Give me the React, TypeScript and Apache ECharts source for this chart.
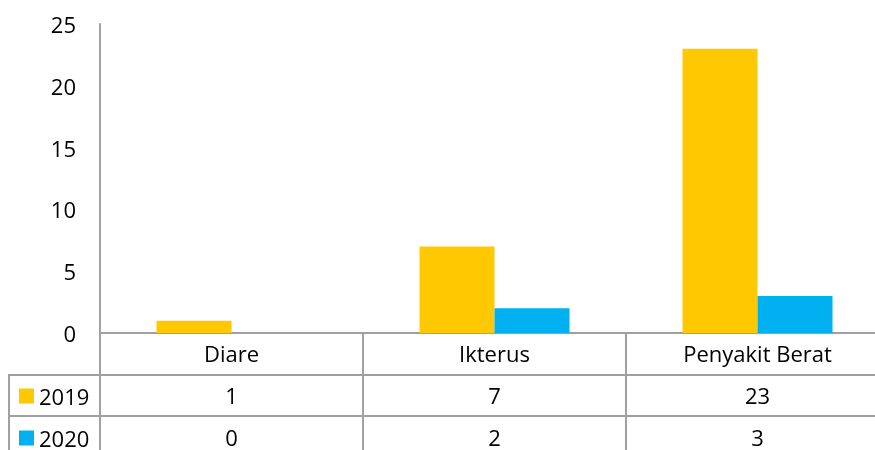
import React, { useEffect, useRef } from "react";
import * as echarts from "echarts";

const categories = ["Diare", "Ikterus", "Penyakit Berat"];
const seriesNames = ["2019", "2020"];
const values2019 = [1, 7, 23];
const values2020 = [0, 2, 3];
const yTicks = { min: 0, max: 25, interval: 5 };

const FONT = "Open Sans";
const GRAY = "#a0a0a0";

export default function App() {
  const ref = useRef<HTMLDivElement>(null);
  useEffect(() => {
    if (!ref.current) return;
    const chart = echarts.init(ref.current, null, { renderer: "svg" });
    const labelStyle = { fontFamily: FONT, fontSize: 22, color: "#000", lineHeight: 22 };
    const legendBase = {
      orient: "horizontal",
      left: 19,
      padding: 0,
      itemWidth: 15,
      itemHeight: 15,
      icon: "rect",
      selectedMode: false,
      textStyle: { fontFamily: FONT, fontSize: 22, color: "#000", lineHeight: 20 },
    };
    chart.setOption({
      animation: false,
      textStyle: { fontFamily: FONT },
      grid: { left: 100, top: 24, right: 0, height: 309, containLabel: false },
      legend: [
        { ...legendBase, data: [seriesNames[0]], top: 385 },
        { ...legendBase, data: [seriesNames[1]], top: 427 },
      ],
      xAxis: [
        {
          type: "category",
          data: categories,
          position: "bottom",
          axisLine: { show: true, lineStyle: { color: GRAY, width: 2 } },
          axisTick: { show: true, interval: 0, length: 125, alignWithLabel: false, lineStyle: { color: GRAY, width: 2 } },
          axisLabel: { ...labelStyle, margin: 9, interval: 0 },
          splitLine: { show: false },
        },
        {
          type: "category",
          data: values2019.map(String),
          position: "bottom",
          offset: 42,
          axisLine: { show: true, lineStyle: { color: GRAY, width: 2 } },
          axisTick: { show: false },
          axisLabel: { ...labelStyle, margin: 9, interval: 0 },
        },
        {
          type: "category",
          data: values2020.map(String),
          position: "bottom",
          offset: 83,
          axisLine: { show: true, lineStyle: { color: GRAY, width: 2 } },
          axisTick: { show: false },
          axisLabel: { ...labelStyle, margin: 10, interval: 0 },
        },
      ],
      yAxis: {
        type: "value",
        min: yTicks.min,
        max: yTicks.max,
        interval: yTicks.interval,
        axisLine: { show: true, lineStyle: { color: GRAY, width: 2 } },
        axisTick: { show: false },
        splitLine: { show: false },
        axisLabel: { ...labelStyle, margin: 24 },
      },
      series: [
        {
          name: seriesNames[0],
          type: "bar",
          data: values2019,
          barWidth: 75,
          barGap: "0%",
          itemStyle: { color: "#FFC800" },
        },
        {
          name: seriesNames[1],
          type: "bar",
          data: values2020,
          barWidth: 75,
          barGap: "0%",
          itemStyle: { color: "#00B0F0" },
        },
      ],
      graphic: [
        { type: "line", shape: { x1: 9, y1: 375, x2: 100, y2: 375 }, style: { stroke: GRAY, lineWidth: 2 } },
        { type: "line", shape: { x1: 9, y1: 416, x2: 100, y2: 416 }, style: { stroke: GRAY, lineWidth: 2 } },
        { type: "line", shape: { x1: 9, y1: 374, x2: 9, y2: 460 }, style: { stroke: GRAY, lineWidth: 2 } },
      ],
    });
    return () => chart.dispose();
  }, []);
  return (
    <div style={{ position: "fixed", left: 0, top: 0, width: 875, height: 450, overflow: "hidden" }}>
      <div ref={ref} style={{ width: 889, height: 450 }} />
    </div>
  );
}
